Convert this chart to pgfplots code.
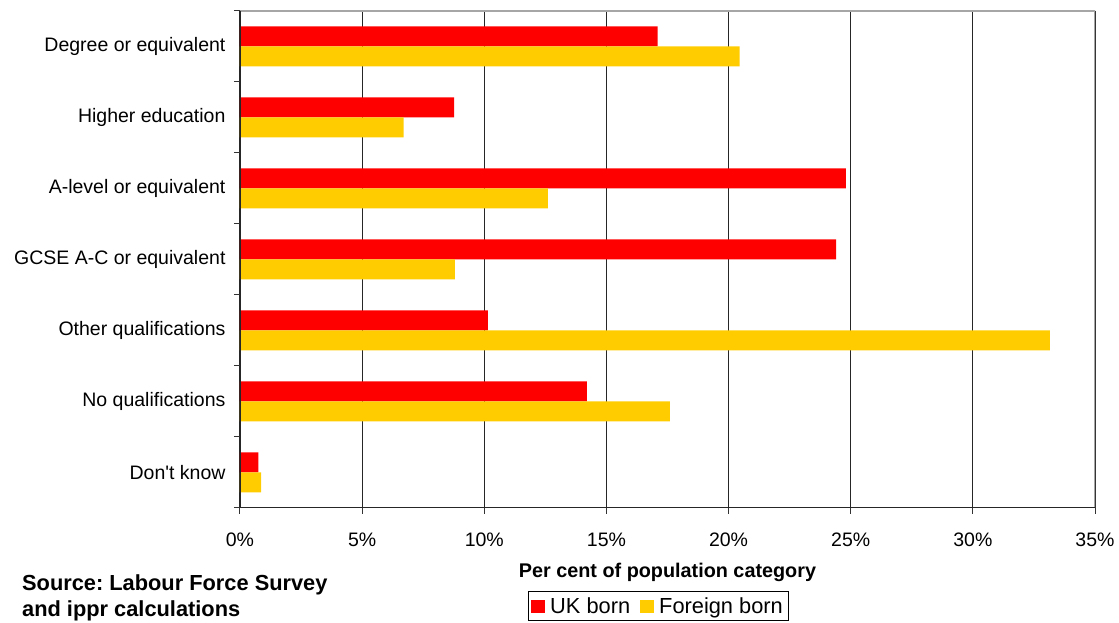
\documentclass[border=0pt]{standalone}
\usepackage{fontspec}
\setmainfont{Liberation Sans}
\usepackage{pgfplots}
\pgfplotsset{compat=1.18}
\definecolor{ukred}{HTML}{FF0000}
\definecolor{fbyellow}{HTML}{FFCC00}
\frenchspacing
\begin{document}
\begin{tikzpicture}
\begin{axis}[
  name=ax,
  width=855pt, height=497pt, scale only axis,
  xbar, bar width=20pt,
  xmin=0, xmax=35, ymin=-0.5, ymax=6.5,
  xtick={0,5,...,35},
  xticklabel={\pgfmathprintnumber{\tick}\%},
  ytick={0,1,2,3,4,5,6},
  yticklabels={Don\textquotesingle t know, No qualifications, Other qualifications, GCSE A-C or equivalent, A-level or equivalent, Higher education, Degree or equivalent},
  minor ytick={-0.5,0.5,...,6.5},
  xtick pos=bottom, ytick pos=left,
  tick align=outside,
  major tick length=6pt, minor tick length=6pt,
  major y tick style={draw=none},
  tick style={black!80, line width=1pt},
  /pgf/number format/assume math mode=true,
  ticklabel style={font=\fontsize{19.5}{22}\selectfont},
  xticklabel style={yshift=-15pt},
  yticklabel style={xshift=-5pt},
  xmajorgrids,
  grid style={black!85, line width=1pt},
  axis line style={draw=none},
  xlabel={\textbf{Per cent of population category}},
  xlabel style={at={(axis description cs:0.5,0)}, anchor=base, yshift=-70pt, font=\fontsize{19.8}{22}\selectfont},
  legend columns=2,
  legend style={at={(axis description cs:0.4895,-0.167)}, anchor=north, draw=black, line width=0.8pt,
    font=\fontsize{21.8}{24}\selectfont, inner xsep=3pt, inner ysep=4pt,
    /tikz/every odd column/.append style={column sep=2pt},
    /tikz/every even column/.append style={column sep=7pt},
    nodes={inner xsep=3pt}},
  legend image code/.code={\fill[#1, draw=none] (0pt,-6.5pt) rectangle (14pt,6.5pt);},
]
\addplot[fill=ukred, draw=none, bar shift=10pt] coordinates {
  (0.75,0) (14.2,1) (10.15,2) (24.4,3) (24.8,4) (8.77,5) (17.1,6)};
\addplot[fill=fbyellow, draw=none, bar shift=-10pt] coordinates {
  (0.86,0) (17.6,1) (33.15,2) (8.8,3) (12.6,4) (6.7,5) (20.45,6)};
\legend{UK born, Foreign born}
\draw[gray!70, line width=1.3pt] (rel axis cs:0,1) -- (rel axis cs:1,1) -- (rel axis cs:1,0);
\draw[black!85, line width=1.3pt] (rel axis cs:0,1) -- (rel axis cs:0,0) -- (rel axis cs:1,0);
\end{axis}
\node[anchor=base west, font=\bfseries\fontsize{21.8}{24}\selectfont, inner sep=0pt] at ([shift={(-218pt,-83pt)}]ax.south west) {Source: Labour Force Survey};
\node[anchor=base west, font=\bfseries\fontsize{21.8}{24}\selectfont, inner sep=0pt] at ([shift={(-218pt,-109pt)}]ax.south west) {and ippr calculations};
\pgfresetboundingbox
\useasboundingbox ([shift={(-240pt,-115pt)}]ax.south west) rectangle ([shift={(24pt,11pt)}]ax.north east);
\end{tikzpicture}
\end{document}
